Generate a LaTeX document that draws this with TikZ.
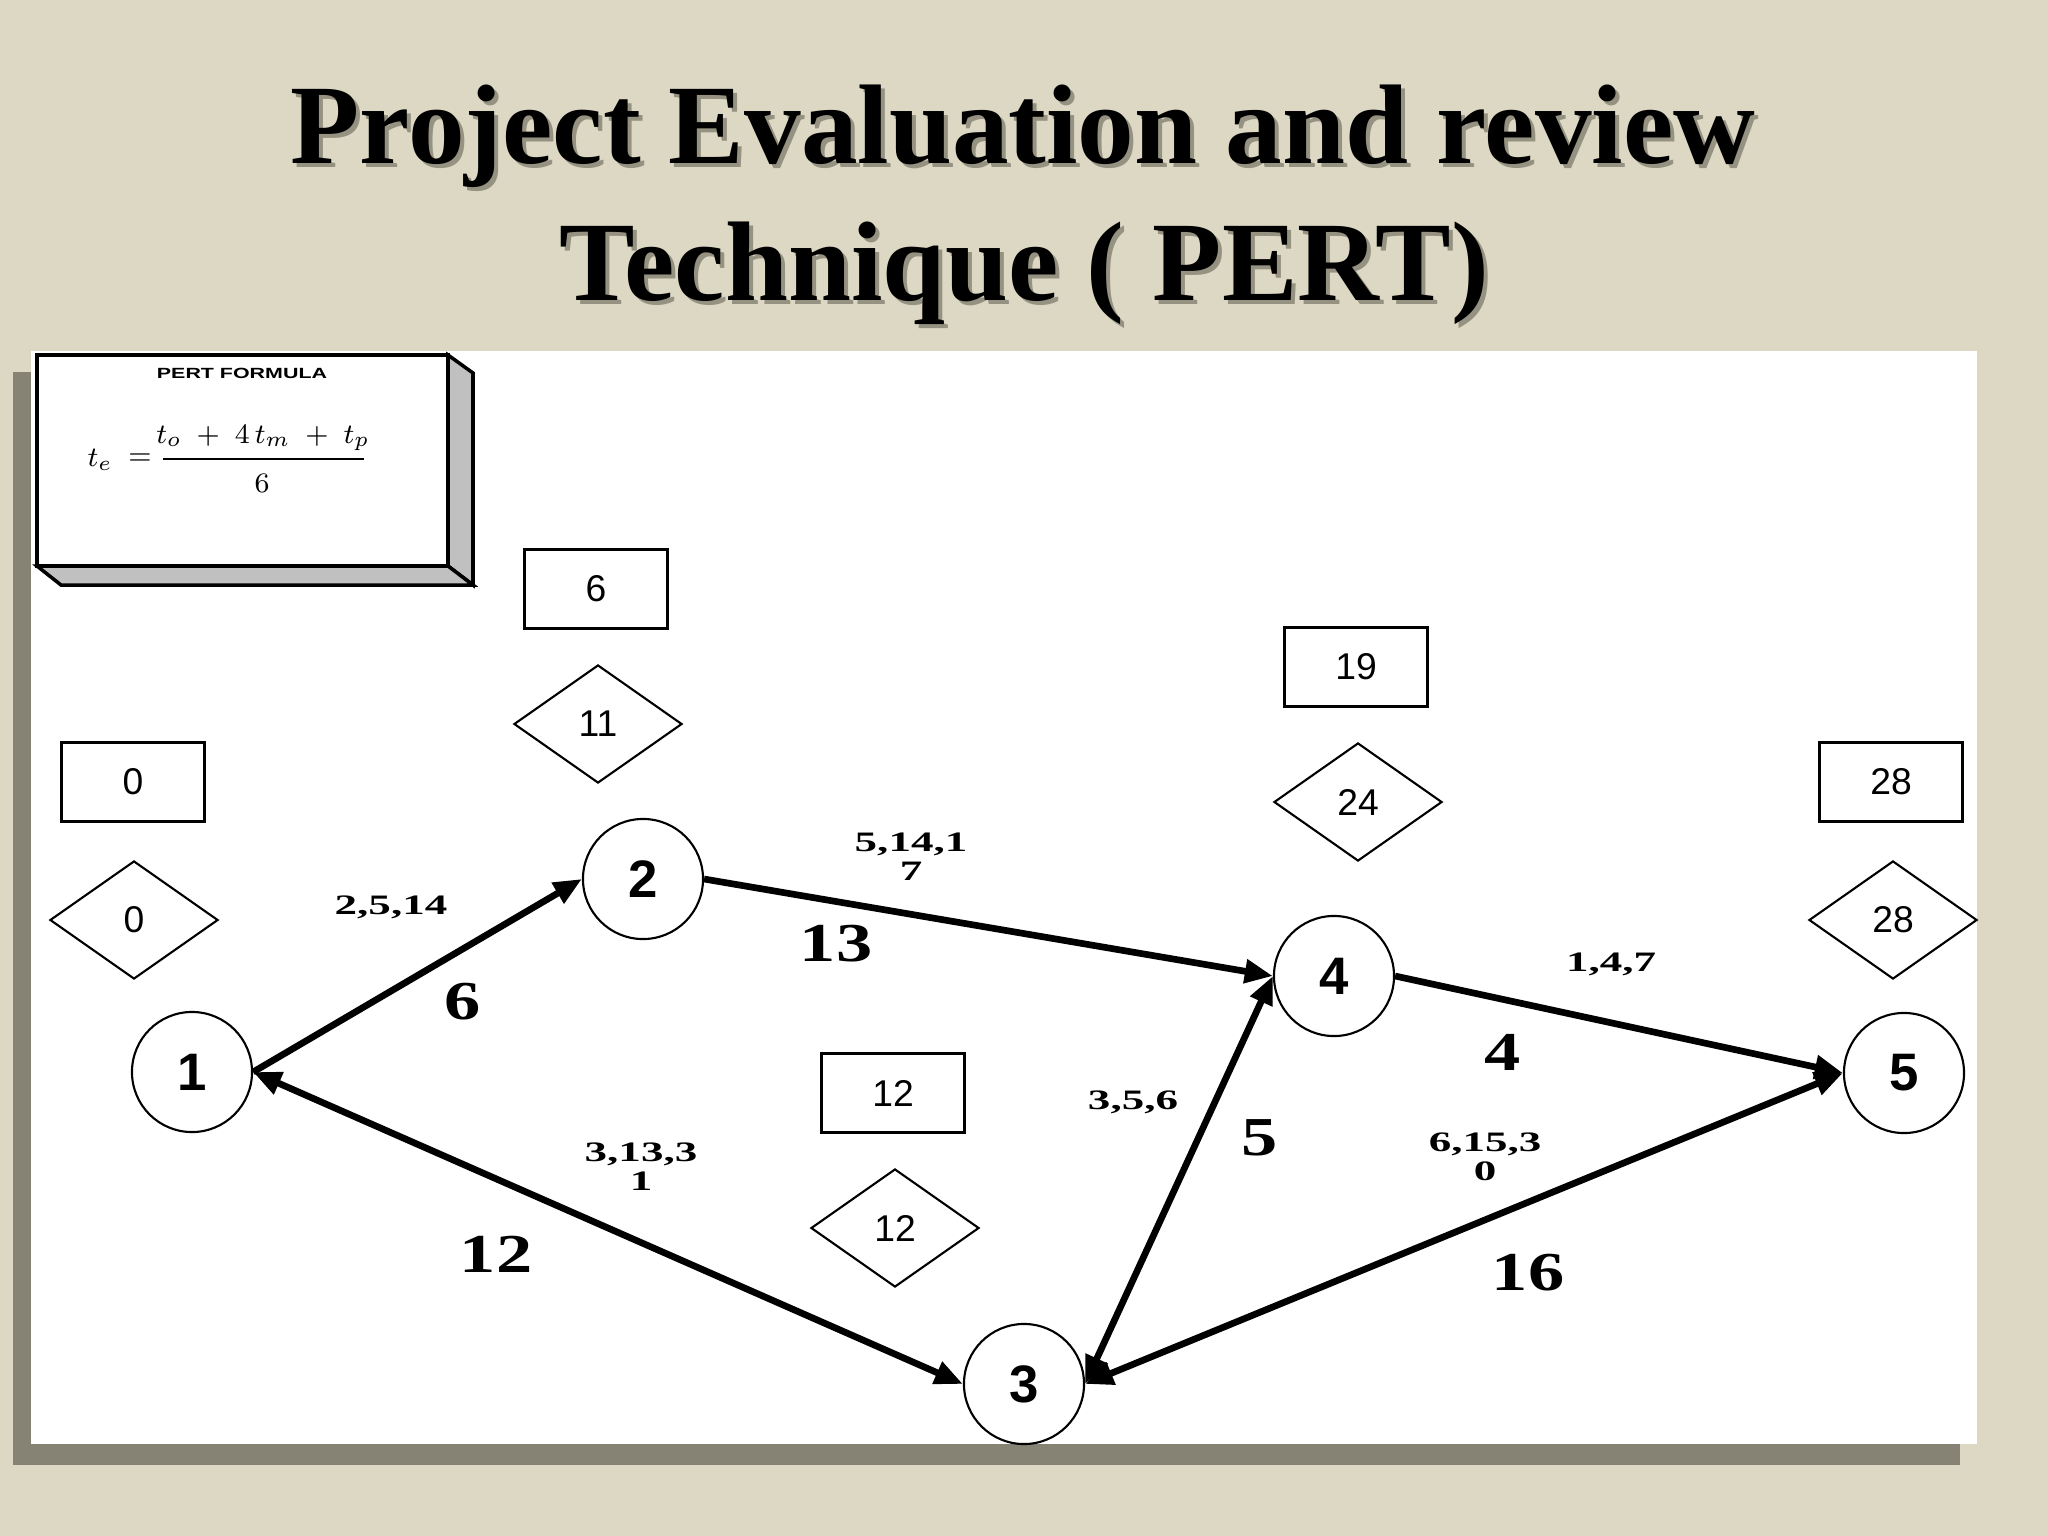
\documentclass[tikz,border=0pt]{standalone}
\usepackage{graphicx}
\usepackage{fontspec}
\setmainfont{Liberation Serif}
\setsansfont{Liberation Sans}
\usetikzlibrary{shapes.geometric,arrows.meta}
\definecolor{bg}{RGB}{221,216,196}
\definecolor{shdw}{RGB}{134,131,116}
\definecolor{ttlshdw}{RGB}{150,146,130}
\definecolor{face}{RGB}{192,192,192}
\newcommand\ttlfont{\fontsize{32.2}{39}\selectfont\bfseries\rmfamily}
\newcommand\boxfnt{\fontsize{10.6}{12}\selectfont\sffamily}
\newcommand\evfnt{\fontsize{15}{18}\selectfont\sffamily\bfseries}
\newcommand\durfnt{\fontsize{15.6}{18}\selectfont\rmfamily\bfseries}
\newcommand\estfnt{\fontsize{8}{8.3}\selectfont\rmfamily\bfseries}
\newcommand\wide[1]{\scalebox{1.32}[1]{#1}}
\newcommand\wider[1]{\scalebox{1.6}[1]{#1}}
\tikzset{
  ev/.style={circle, draw, line width=0.6pt, minimum size=1.2cm, inner sep=0pt, font=\evfnt},
  tbox/.style={rectangle, draw, line width=1pt, minimum width=1.43cm, minimum height=0.79cm, inner sep=0pt, font=\boxfnt},
  tdia/.style={diamond, draw, line width=0.6pt, minimum width=1.68cm, minimum height=1.18cm, inner sep=0pt, font=\boxfnt},
  act/.style={line width=1.9pt, -{Triangle[length=8pt,width=6.5pt]}},
  actb/.style={line width=1.9pt, {Triangle[length=8pt,width=6.5pt]}-{Triangle[length=8pt,width=6.5pt]}},
  dur/.style={font=\durfnt, inner sep=0pt},
  est/.style={font=\estfnt, align=center, inner sep=0pt},
  ttl/.style={font=\ttlfont, anchor=base, inner sep=0pt},
}
\begin{document}
\begin{tikzpicture}[x=0.01cm, y=-0.01cm]
\useasboundingbox (0,0) rectangle (2048,1536);
\fill[bg] (0,0) rectangle (2048,1536);
% title
\node[ttl, text=ttlshdw] (t1s) at (1027,167) {Project Evaluation and review};
\node[ttl, text=ttlshdw] (t2s) at (1028,304) {Technique ( PERT)};
\node[ttl] (t1) at (1023,163) {Project Evaluation and review};
\node[ttl] (t2) at (1024,300) {Technique ( PERT)};
% panel
\fill[shdw] (13,372) rectangle (1960,1465);
\fill[white] (31,351) rectangle (1977,1444);
% formula box
\filldraw[fill=face, line width=1pt] (448,355) -- (473,373) -- (473,585) -- (448,566) -- cycle;
\filldraw[fill=face, line width=1pt] (37,566) -- (61,585) -- (473,585) -- (448,566) -- cycle;
\filldraw[fill=white, line width=1.1pt] (37,355) rectangle (448,566);
\node[inner sep=0pt] (pf) at (242,373) {\scalebox{1.45}[1]{\fontsize{4.2}{5}\selectfont\sffamily\bfseries PERT FORMULA}};
\node[inner sep=0pt] (te) at (100,460) {\fontsize{8}{9}\selectfont$t_e$};
\node[inner sep=0pt] (eq) at (140,459) {\fontsize{8}{9}\selectfont$=$};
\draw[line width=0.7pt] (163,459) -- (364,459);
\node[inner sep=0pt] (num) at (263,438) {\fontsize{8}{9}\selectfont$\medmuskip=9mu t_o + 4\,t_m + t_p$};
\node[inner sep=0pt] (den) at (262,483) {\fontsize{8}{9}\selectfont$6$};
% event nodes
\node[ev] (n1) at (192,1072) {1};
\node[ev] (n2) at (643,879) {2};
\node[ev] (n3) at (1024,1384) {3};
\node[ev] (n4) at (1334,976) {4};
\node[ev] (n5) at (1904,1073) {5};
% earliest time boxes
\node[tbox] (b1) at (133,782) {0};
\node[tbox] (b2) at (596,589) {6};
\node[tbox] (b4) at (1356,667) {19};
\node[tbox] (b5) at (1891,782) {28};
\node[tbox] (b3) at (893,1093) {12};
% latest time diamonds
\node[tdia] (d1) at (134,920) {0};
\node[tdia] (d2) at (598,724) {11};
\node[tdia] (d4) at (1358,802) {24};
\node[tdia] (d5) at (1893,920) {28};
\node[tdia] (d3) at (895,1228) {12};
% activities
\draw[act] (n1.east) -- (n2.west);
\draw[actb] (n1.east) -- (n3.west);
\draw[act] (n2.east) -- (n4.west);
\draw[actb] (n3.east) -- (n4.west);
\draw[act] (n4.east) -- (n5.west);
\draw[actb] (n3.east) -- (n5.west);
% estimates
\node[est] (e12) at (391,907) {\wider{2,5,14}};
\node[est] (e24) at (911,857) {\wider{5,14,1}\\\wider{7}};
\node[est] (e13) at (641,1167) {\wider{3,13,3}\\\wider{1}};
\node[est] (e34) at (1133,1102) {\wider{3,5,6}};
\node[est] (e45) at (1611,964) {\wider{1,4,7}};
\node[est] (e35) at (1485,1157) {\wider{6,15,3}\\\wider{0}};
% expected durations
\node[dur] (m12) at (463,1002) {\wide{6}};
\node[dur] (m24) at (836,944) {\wide{13}};
\node[dur] (m13) at (496,1254) {\wide{12}};
\node[dur] (m34) at (1260,1138) {\wide{5}};
\node[dur] (m45) at (1503,1052) {\wide{4}};
\node[dur] (m35) at (1528,1273) {\wide{16}};
\end{tikzpicture}
\end{document}
